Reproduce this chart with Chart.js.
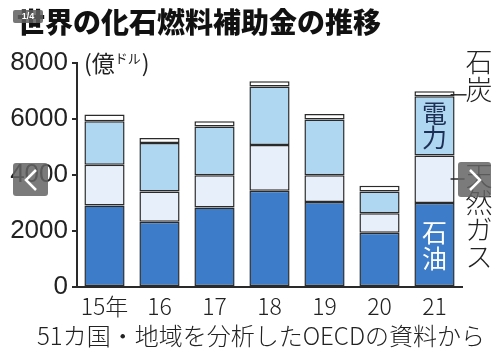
<!DOCTYPE html>
<html lang="ja">
<head>
<meta charset="UTF-8">
<title>世界の化石燃料補助金の推移</title>
<script src="https://cdn.jsdelivr.net/npm/chart.js"></script>
<style>
  html, body { margin: 0; padding: 0; background: #fff; }
  #wrap { width: 504px; height: 359px; }
</style>
</head>
<body>
<div id="wrap"><canvas id="myChart" width="504" height="359"></canvas></div>
<script>
// data (億ドル)
const years = ['15年', '16', '17', '18', '19', '20', '21'];
const oil   = [2910, 2330, 2840, 3440, 3040, 1940, 3000];
const gas   = [1460, 1080, 1150, 1630,  950,  690, 1700];
const power = [1550, 1730, 1740, 2090, 1990,  780, 2110];
const coal  = [ 240,  180,  190,  190,  200,  210,  180];
const yTicks = [0, 2000, 4000, 6000, 8000];

const titleText = '世界の化石燃料補助金の推移';
const sourceText = '51カ国・地域を分析したOECDの資料から';

const NUM = '"Liberation Sans Narrow", "Liberation Sans", Arial, sans-serif';
const JP = '"Noto Sans CJK JP", "Noto Sans", sans-serif';
const INK = '#2a2a2a';

const extras = {
  id: 'extras',
  afterDraw(chart) {
    const ctx = chart.ctx;
    ctx.save();

    // title
    ctx.fillStyle = '#111';
    ctx.font = '900 28px ' + JP;
    ctx.textBaseline = 'middle';
    ctx.textAlign = 'left';
    ctx.fillText(titleText, 17, 22);

    // unit
    ctx.font = '23px ' + JP;
    ctx.fillStyle = '#222';
    ctx.fillText('(億', 84, 63);
    let w = ctx.measureText('(億').width;
    ctx.font = '13px ' + JP;
    ctx.fillText('ドル', 84 + w, 58);
    let w2 = ctx.measureText('ドル').width;
    ctx.font = '23px ' + JP;
    ctx.fillText(')', 84 + w + w2 + 1, 63);

    // footer
    ctx.font = '300 24px ' + JP;
    ctx.fillStyle = '#222';
    ctx.textAlign = 'center';
    ctx.fillText(sourceText, 261, 336);

    // labels on the last bar
    const last = years.length - 1;
    const bOil = chart.getDatasetMeta(0).data[last];
    const bPow = chart.getDatasetMeta(2).data[last];
    const bCoal = chart.getDatasetMeta(3).data[last];

    ctx.textAlign = 'center';
    ctx.font = '25px ' + JP;
    ctx.fillStyle = '#fff';
    let my = (bOil.y + bOil.base) / 2;
    ctx.fillText('石', bOil.x, my - 12);
    ctx.fillText('油', bOil.x, my + 14);

    ctx.fillStyle = '#1d2f55';
    my = (bPow.y + bPow.base) / 2;
    ctx.fillText('電', bPow.x, my - 12);
    ctx.fillText('力', bPow.x, my + 12);

    // leader lines
    const right = bOil.x + bOil.width / 2;
    ctx.strokeStyle = INK;
    ctx.lineWidth = 1.5;
    const cy = (bCoal.y + bCoal.base) / 2 + 1;
    ctx.beginPath();
    ctx.moveTo(right - 4, cy);
    ctx.lineTo(right + 12, cy);
    ctx.stroke();
    const gy = 179;
    ctx.beginPath();
    ctx.moveTo(right - 4, gy);
    ctx.lineTo(right + 10, gy);
    ctx.stroke();

    // side labels (vertical)
    ctx.fillStyle = '#222';
    ctx.font = '300 27px ' + JP;
    ['石', '炭'].forEach((c, i) => ctx.fillText(c, 479, 62 + i * 28));
    ['天', '然', 'ガ', 'ス'].forEach((c, i) => ctx.fillText(c, 479, 176 + i * 27));

    // viewer overlays
    ctx.fillStyle = 'rgba(95,95,95,0.85)';
    ctx.beginPath();
    ctx.roundRect(13, 10, 30, 13, 2);
    ctx.fill();
    ctx.fillStyle = '#fff';
    ctx.font = 'bold 9px ' + NUM;
    ctx.fillText('1/4', 28, 17);

    ctx.fillStyle = 'rgba(100,100,100,0.85)';
    ctx.beginPath();
    ctx.roundRect(13, 163, 35, 33, 3);
    ctx.fill();
    ctx.beginPath();
    ctx.roundRect(458, 162, 33, 35, 3);
    ctx.fill();
    ctx.strokeStyle = '#fff';
    ctx.lineWidth = 2.5;
    ctx.beginPath();
    ctx.moveTo(36, 170); ctx.lineTo(26, 180); ctx.lineTo(36, 190);
    ctx.stroke();
    ctx.beginPath();
    ctx.moveTo(470, 170); ctx.lineTo(480, 180); ctx.lineTo(470, 190);
    ctx.stroke();

    ctx.restore();
  }
};

function ds(label, data, color) {
  return {
    label: label,
    data: data,
    backgroundColor: color,
    borderColor: INK,
    borderWidth: 1.5,
    borderSkipped: false,
    categoryPercentage: 1,
    barPercentage: 0.73
  };
}

new Chart(document.getElementById('myChart').getContext('2d'), {
  type: 'bar',
  data: {
    labels: years,
    datasets: [
      ds('石油', oil, '#3c7cc8'),
      ds('天然ガス', gas, '#e7f0fa'),
      ds('電力', power, '#afd7f1'),
      ds('石炭', coal, '#ffffff')
    ]
  },
  options: {
    responsive: false,
    animation: false,
    layout: { padding: { left: 0, top: 63, right: 42, bottom: 0 } },
    plugins: {
      legend: { display: false },
      tooltip: { enabled: false }
    },
    scales: {
      x: {
        stacked: true,
        grid: { display: false, drawTicks: false },
        border: { display: true, color: INK, width: 2 },
        ticks: {
          color: '#222', font: { family: JP, size: 23, weight: 300 }, padding: 5,
          maxRotation: 0, minRotation: 0, autoSkip: false
        },
        afterFit(scale) { scale.height = 72; }
      },
      y: {
        stacked: true,
        min: 0,
        max: 8000,
        afterBuildTicks(scale) { scale.ticks = yTicks.map(v => ({ value: v })); },
        grid: { drawOnChartArea: false, drawTicks: true, tickLength: 5, color: INK, lineWidth: 2 },
        border: { display: true, color: INK, width: 2 },
        ticks: {
          color: '#222', font: { family: NUM, size: 26 }, padding: 4,
          callback: v => String(v)
        },
        afterFit(scale) { scale.width = 77; }
      }
    }
  },
  plugins: [extras]
});
</script>
</body>
</html>
